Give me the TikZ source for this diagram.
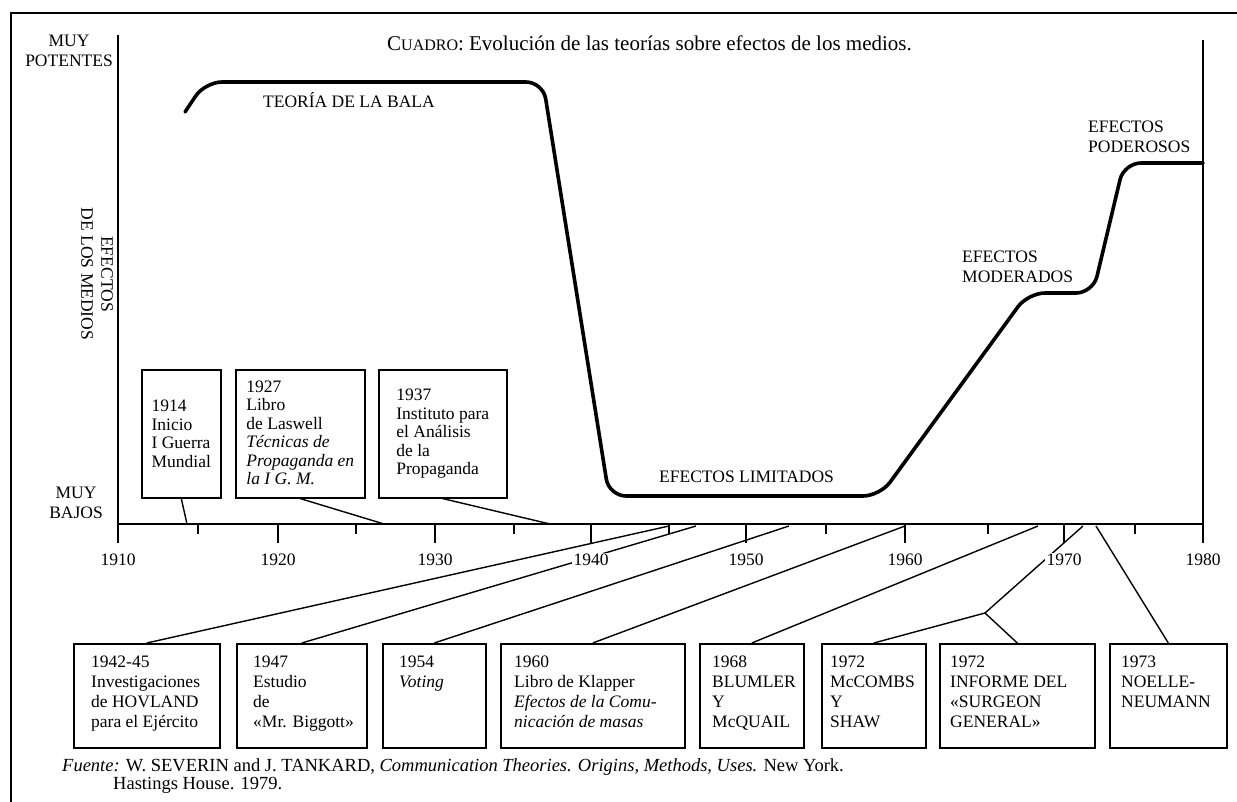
\documentclass[tikz,border=0pt]{standalone}
\usepackage{fontspec}
\setmainfont{Liberation Serif}
\begin{document}
\begin{tikzpicture}[x=1pt,y=-1pt,
  frameline/.style={line width=2.6pt},
  axisline/.style={line width=1.7pt},
  tickline/.style={line width=1.7pt},
  curveline/.style={line width=3.6pt, line cap=round, rounded corners=17pt},
  evbox/.style={draw, line width=1.6pt, inner sep=0pt, anchor=north west},
  conn/.style={line width=1.4pt},
  body/.style={font=\fontsize{17.5}{20}\selectfont, inner sep=0pt, align=left},
  bodytop/.style={font=\fontsize{17.5}{18.5}\selectfont, inner sep=0pt, align=left},
  lbl/.style={font=\fontsize{17.5}{20}\selectfont, inner sep=0pt},
  yearlbl/.style={font=\fontsize{17.5}{20}\selectfont, fill=white, inner sep=1.5pt},
]
% page and outer frame
\useasboundingbox (0,0) rectangle (1237,802);
\fill[white] (0,0) rectangle (1237,802);
\draw[frameline] (11,802) -- (11,13) -- (1237,13);

% axes
\coordinate (ytop) at (118,35);
\coordinate (yorig) at (118,524);
\coordinate (xend) at (1203,524);
\coordinate (rtop) at (1203,40);
\draw[axisline] (ytop) -- (yorig) -- (xend);
\draw[axisline] (rtop) -- (1203,543);

% decade ticks and half-decade ticks
\foreach \yr/\px in {1910/118,1920/278,1930/435,1940/591,1950/746,1960/905,1970/1064,1980/1203}
  \draw[tickline] (\px,524) -- (\px,543) coordinate (t\yr);
\foreach \px in {198,356,514,669,826,988,1135}
  \draw[tickline] (\px,524) -- (\px,534);

% axis captions
\node[lbl, align=center] (potentes) at (69,51) {MUY\\POTENTES};
\node[lbl, align=center] (bajos) at (76,503) {MUY\\BAJOS};
\node[lbl, align=center, rotate=-90] (medios) at (97,274) {EFECTOS\\DE LOS MEDIOS};

% title
\node[anchor=west, inner sep=0pt, font=\fontsize{21}{24}\selectfont] (title) at (387,43)
  {C{\fontsize{16}{18}\selectfont UADRO}: Evolución de las teorías sobre efectos de los medios.};

% the effects curve
\draw[curveline] (185,112) -- (205,82) -- (543,82) -- (609,496) -- (880,496)
  -- (1028,293) -- (1093,293) -- (1124,163) -- (1203,163);

% curve labels
\node[lbl, anchor=west] (bala) at (263,100) {TEORÍA DE LA BALA};
\node[lbl, anchor=west] (limitados) at (659,477) {EFECTOS LIMITADOS};
\node[lbl, anchor=west, align=left] (moderados) at (962,267) {EFECTOS\\MODERADOS};
\node[lbl, anchor=west, align=left] (poderosos) at (1088,137) {EFECTOS\\PODEROSOS};

% upper row of events
\node[evbox, minimum width=79pt, minimum height=128pt] (e1914) at (141,369) {};
\node[evbox, minimum width=129pt, minimum height=128pt] (e1927) at (235,369) {};
\node[evbox, minimum width=128pt, minimum height=128pt] (e1937) at (378,369) {};
\node[bodytop] (x1914) at (e1914.center) {1914\\Inicio\\I Guerra\\Mundial};
\node[bodytop] (x1927) at ([yshift=1pt]e1927.center) {1927\\Libro\\de Laswell\\\textit{Técnicas de}\\\textit{Propaganda en}\\\textit{la I G. M.}};
\node[bodytop] (x1937) at (e1937.center) {1937\\Instituto para\\el Análisis\\de la\\Propaganda};

\coordinate (a1914) at (187,524);
\coordinate (a1927) at (384,524);
\coordinate (a1937) at (550,524);
\draw[conn] (e1914.south) -- (a1914);
\draw[conn] (e1927.south) -- (a1927);
\draw[conn] (e1937.south) -- (a1937);

% lower row of events
\node[evbox, minimum width=146pt, minimum height=104pt] (e1942) at (73,643) {};
\node[evbox, minimum width=130pt, minimum height=104pt] (e1947) at (236,643) {};
\node[evbox, minimum width=103pt, minimum height=104pt] (e1954) at (382,643) {};
\node[evbox, minimum width=184pt, minimum height=104pt] (e1960) at (500,643) {};
\node[evbox, minimum width=104pt, minimum height=104pt] (e1968) at (699,643) {};
\node[evbox, minimum width=104pt, minimum height=104pt] (e1972a) at (821,643) {};
\node[evbox, minimum width=155pt, minimum height=104pt] (e1972b) at (939,643) {};
\node[evbox, minimum width=117pt, minimum height=104pt] (e1973) at (1109,643) {};

\node[body, anchor=north west] (x1942) at ([shift={(18,13)}]e1942.north west)
  {1942-45\\Investigaciones\\de HOVLAND\\para el Ejército};
\node[body, anchor=north west] (x1947) at ([shift={(17,13)}]e1947.north west)
  {1947\\Estudio\\de\\«Mr. Biggott»};
\node[body, anchor=north west] (x1954) at ([shift={(17,13)}]e1954.north west)
  {1954\\\textit{Voting}};
\node[body, anchor=north west] (x1960) at ([shift={(14,13)}]e1960.north west)
  {1960\\Libro de Klapper\\\textit{Efectos de la Comu-}\\\textit{nicación de masas}};
\node[body, anchor=north west] (x1968) at ([shift={(13,13)}]e1968.north west)
  {1968\\BLUMLER\\Y\\McQUAIL};
\node[body, anchor=north west] (x1972a) at ([shift={(9,13)}]e1972a.north west)
  {1972\\McCOMBS\\Y\\SHAW};
\node[body, anchor=north west] (x1972b) at ([shift={(11,13)}]e1972b.north west)
  {1972\\INFORME DEL\\«SURGEON\\GENERAL»};
\node[body, anchor=north west] (x1973) at ([shift={(12,13)}]e1973.north west)
  {1973\\NOELLE-\\NEUMANN};

% where the lower events meet the time axis
\coordinate (a1945) at (669,526);
\coordinate (a1947) at (696,526);
\coordinate (a1954) at (789,526);
\coordinate (a1960) at (905,526);
\coordinate (a1968) at (1038,526);
\coordinate (a1972) at (1083,526);
\coordinate (a1973) at (1096,526);
\coordinate (join1972) at (985,613);

\draw[conn] (e1942.north) -- (a1945);
\draw[conn] (e1947.north) -- (a1947);
\draw[conn] (e1954.north) -- (a1954);
\draw[conn] (e1960.north) -- (a1960);
\draw[conn] (e1968.north) -- (a1968);
\draw[conn] (e1972a.north) -- (join1972) -- (a1972);
\draw[conn] (e1972b.north) -- (join1972);
\draw[conn] (e1973.north) -- (a1973);

% year labels, drawn over the connectors
\foreach \yr/\px in {1910/118,1920/278,1930/435,1940/591,1950/746,1960/905,1970/1064,1980/1203}
  \node[yearlbl] (y\yr) at (\px,560) {\yr};

% source note
\node[anchor=west, inner sep=0pt, font=\fontsize{18.5}{20}\selectfont] (fuente) at (62,767)
  {\textit{Fuente:} W. SEVERIN and J. TANKARD, \textit{Communication Theories. Origins, Methods, Uses.} New York.};
\node[anchor=west, inner sep=0pt, font=\fontsize{18.5}{20}\selectfont] (fuente2) at (113,785) {Hastings House. 1979.};
\end{tikzpicture}
\end{document}
